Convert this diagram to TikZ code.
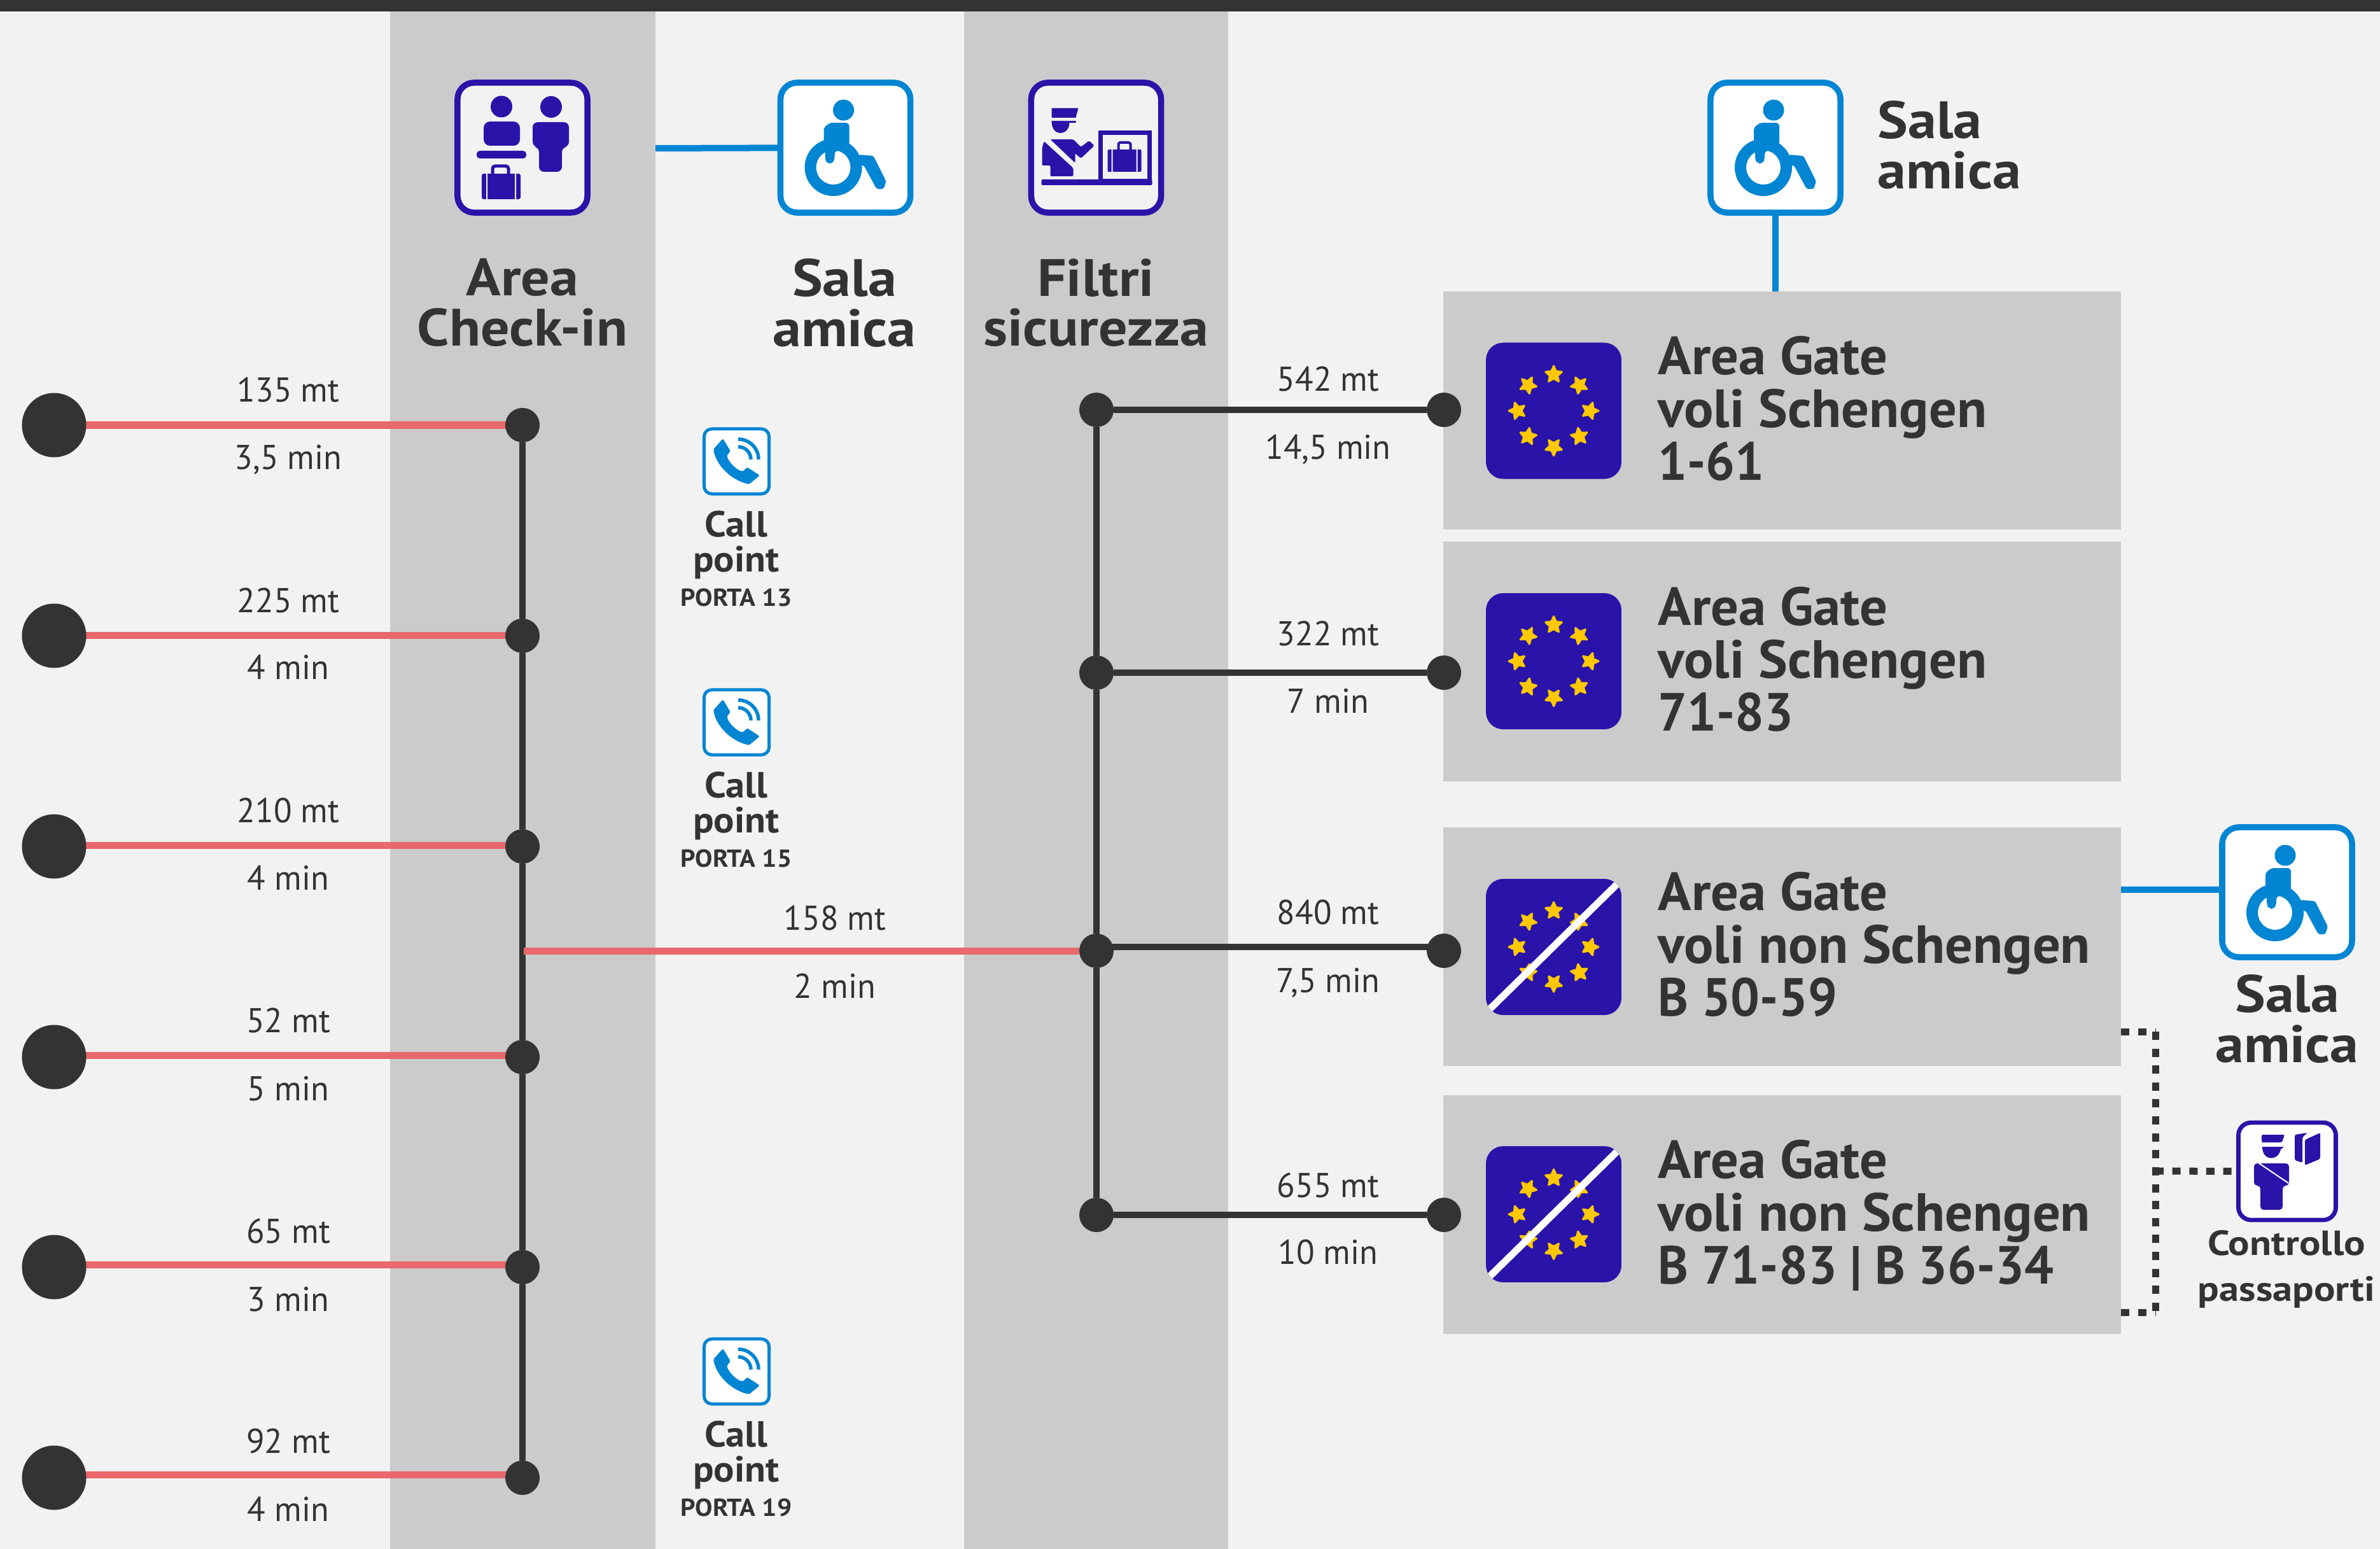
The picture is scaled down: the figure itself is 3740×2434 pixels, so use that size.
\documentclass[tikz,border=0pt]{standalone}
\usepackage{fontspec}
\setmainfont{PT Sans}
\newfontfamily\fDist[FakeStretch=0.97]{PT Sans}
\newfontfamily\fHead[FakeStretch=1.09]{PT Sans}
\newfontfamily\fGate[FakeStretch=1.025]{PT Sans}
\newfontfamily\fGateN[FakeStretch=0.96]{PT Sans}
\newfontfamily\fCall[FakeStretch=1.06]{PT Sans}
\newfontfamily\fPass[FakeStretch=1.14]{PT Sans}
\usetikzlibrary{shapes.geometric}
\definecolor{bgc}{HTML}{F2F2F2}
\definecolor{bandc}{HTML}{CBCBCB}
\definecolor{darkc}{HTML}{333333}
\definecolor{redc}{HTML}{E8686C}
\definecolor{salac}{HTML}{0285D2}
\definecolor{indc}{HTML}{2A13A8}
\definecolor{starc}{HTML}{FFC800}
\newcommand{\flagbase}[1]{%
  \begin{scope}
    \clip[rounded corners=.27cm] (-106.5,-107) rectangle (106.5,107);
    \fill[indc] (-106.5,-107) rectangle (106.5,107);
    \foreach \a in {0,45,...,315}
      \node[eustar,rotate={-\a-90}] at ({57*cos(\a)},{57*sin(\a)}) {};
    #1
  \end{scope}}
\tikzset{
  eustar/.style={star,star points=5,star point ratio=2.1,fill=starc,draw=starc,line width=.03cm,line join=round,minimum size=.27cm,inner sep=0pt},
  euflag/.pic={\flagbase{}},
  nonflag/.pic={\flagbase{\draw[white,line width=.11cm] (-105,102) -- (105,-104);}},
  wheelpic/.pic={
    \fill[salac] (103,48) circle[radius=.165cm];
    \fill[salac,rounded corners=.03cm] (127,118) -- (150,120) -- (170,160) -- (166,172) -- (155,172) -- (135,135) -- (120,135) -- cycle;
    \fill[salac,even odd rule] (87,138) circle[radius=.45cm] (87,138) circle[radius=.27cm];
    \fill[salac,rounded corners=.05cm] (72,108) -- (72,84) .. controls (72,74) and (80,68) .. (90,68) -- (112,68) -- (112,112) -- (89,112) -- (89,126) -- (85,132) -- (78,132) -- (74,126) -- (74,108) -- cycle;
  },
  checkinpic/.pic={
    \fill[indc] (73,42.5) circle[radius=.17cm] (151,43) circle[radius=.17cm];
    \fill[indc,rounded corners=.1cm] (45,104) -- (45,66) -- (102,66) -- (102,104) -- cycle;
    \fill[indc,rounded corners=.05cm] (34,112) rectangle (112,124);
    \fill[indc,rounded corners=.08cm] (122,106) -- (122,67) -- (179,67) -- (179,106) -- (168,106) -- (168,145) -- (132,145) -- (132,106) -- cycle;
    \fill[indc,rounded corners=.03cm] (42,148) rectangle (103,188);
    \fill[bgc] (49,148) rectangle (51,188) (94,148) rectangle (96,188);
    \draw[indc,line width=.05cm,rounded corners=.04cm] (59,148) -- (59,136) -- (84,136) -- (84,148);
  },
  filtripic/.pic={
    \fill[indc] (36,45) -- (78,45) -- (74,60) -- (36,60) -- cycle;
    \fill[indc] (36,65) -- (74,65) -- (74,68) -- (64,68) .. controls (64,88) and (36,92) .. (36,65) -- cycle;
    \fill[indc,rounded corners=.02cm] (24,97) -- (70,139) -- (70,152) -- (34,152) -- (34,135) -- (21,135) -- (21,108) -- cycle;
    \fill[indc,rounded corners=.02cm] (34,94) -- (70,94) -- (82,106) -- (95,96) -- (103,104) -- (82,124) -- (73,116) -- (73,131) -- cycle;
    \draw[indc,line width=.07cm] (113,84) rectangle (190,160);
    \fill[indc,rounded corners=.02cm] (20,157) rectangle (194,166);
    \fill[indc,rounded corners=.02cm] (124,110) rectangle (177,145);
    \fill[bgc] (130,110) rectangle (132,145) (169,110) rectangle (171,145);
    \draw[indc,line width=.04cm,rounded corners=.03cm] (141,110) -- (141,99) -- (160,99) -- (160,110);
  },
  passpic/.pic={
    \fill[indc,rounded corners=.02cm] (40,22) -- (76,22) -- (72,34) -- (40,34) -- cycle;
    \fill[indc] (41,41) -- (75,41) -- (70,45) .. controls (66,64) and (41,64) .. (41,41) -- cycle;
    \fill[indc,rounded corners=.05cm] (38,140) -- (38,102) -- (28,102) -- (28,67) -- (83,67) -- (83,102) -- (73,102) -- (73,140) -- cycle;
    \draw[white,line width=.02cm] (33,65) -- (82,98);
    \fill[indc,rounded corners=.02cm] (92,22) -- (112,19) -- (104,26) -- (104,66) -- (92,62) -- cycle;
    \fill[indc,rounded corners=.02cm] (108,30) -- (132,19) -- (132,60) -- (108,70) -- cycle;
  },
  phonepic/.pic={
    \fill[salac,rounded corners=.025cm] (32,17) -- (44,37) -- (38,44) .. controls (42,55) and (52,65) .. (63,69) -- (70,62) -- (90,75) -- (73,89) .. controls (45,82) and (22,60) .. (17,34) -- cycle;
    \draw[salac,line width=.055cm] (56,30) arc (90:0:.2cm);
    \draw[salac,line width=.055cm] (56,18) arc (90:0:.32cm);
  },
  bigbox/.style={draw=#1,fill=white,line width=.095cm,minimum width=2.04cm,minimum height=2.04cm,rounded corners=.26cm,inner sep=0pt,outer sep=0pt},
  phonebox/.style={draw=salac,fill=white,line width=.05cm,minimum width=1.02cm,minimum height=1.02cm,rounded corners=.12cm,inner sep=0pt,outer sep=0pt},
  passbox/.style={draw=indc,fill=white,line width=.068cm,minimum width=1.53cm,minimum height=1.53cm,rounded corners=.2cm,inner sep=0pt,outer sep=0pt},
  gatebox/.style={fill=bandc,minimum width=10.65cm,inner sep=0pt,outer sep=0pt},
  bigdot/.style={circle,fill=darkc,minimum size=1.01cm,inner sep=0pt,outer sep=0pt},
  smalldot/.style={circle,fill=darkc,minimum size=.54cm,inner sep=0pt,outer sep=0pt},
  redline/.style={draw=redc,line width=.11cm},
  darkline/.style={draw=darkc,line width=.10cm},
  blueline/.style={draw=salac,line width=.10cm},
  dotline/.style={draw=darkc,line width=.11cm,dash pattern=on .13cm off .136cm},
  tight/.style={execute at begin node={\lineskiplimit=-30pt\relax}},
  distlabel/.style={text=darkc,anchor=base,inner sep=0pt,font=\fontsize{15.4}{18}\selectfont\fDist},
  headlabel/.style={tight,text=darkc,align=center,inner sep=0pt,font=\fontsize{23.5}{22.4}\selectfont\fHead\bfseries},
  leftlabel/.style={headlabel,align=left,anchor=west},
  gatelabel/.style={tight,text=darkc,align=left,anchor=west,inner sep=0pt,font=\fontsize{24}{23.6}\selectfont\fGate\bfseries},
  calllabel/.style={tight,text=darkc,align=center,inner sep=0pt,font=\fontsize{16.2}{15.7}\selectfont\fCall\bfseries},
  portalabel/.style={text=darkc,anchor=base,inner sep=0pt,font=\fontsize{11}{13}\selectfont\fCall\bfseries},
  passlabel/.style={tight,text=darkc,align=center,inner sep=0pt,font=\fontsize{15.6}{20.4}\selectfont\fPass\bfseries},
}
\newcommand{\numline}[1]{{\fGateN\bfseries #1}}
\begin{document}
\begin{tikzpicture}[x=.01cm,y=-.01cm]
\fill[bgc] (0,0) rectangle (3740,2434);
\useasboundingbox (0,0) rectangle (3740,2434);
\fill[darkc] (0,0) rectangle (3740,18);
\fill[bandc] (613,18) rectangle (1030,2434);
\fill[bandc] (1515,18) rectangle (1930,2434);

% gate areas
\node[gatebox,minimum height=3.74cm] (G1) at (2800.5,645) {};
\node[gatebox,minimum height=3.77cm] (G2) at (2800.5,1039.5) {};
\node[gatebox,minimum height=3.75cm] (G3) at (2800.5,1487.5) {};
\node[gatebox,minimum height=3.75cm] (G4) at (2800.5,1908.5) {};

% icon boxes
\node[bigbox=indc,fill=bgc] (CI) at (821,232) {};
\node[bigbox=salac] (S1) at (1328.5,232) {};
\node[bigbox=indc,fill=bgc] (FS) at (1722.5,232) {};
\node[bigbox=salac] (S2) at (2790,232) {};
\node[bigbox=salac] (S3) at (3594,1402) {};
\node[passbox] (PC) at (3594,1840.5) {};
\node[phonebox] (T1) at (1157.5,725) {};
\node[phonebox] (T2) at (1157.5,1135) {};
\node[phonebox] (T3) at (1157.5,2155) {};
\pic at (715,125) {checkinpic};
\pic at (1222.5,125) {wheelpic};
\pic at (1616.5,125) {filtripic};
\pic at (2684,125) {wheelpic};
\pic at (3488,1296) {wheelpic};
\pic at (3514,1761) {passpic};
\pic at (1104,672) {phonepic};
\pic at (1104,1082) {phonepic};
\pic at (1104,2102) {phonepic};

% flags
\pic at (2441.5,645.5) {euflag};
\pic at (2441.5,1039) {euflag};
\pic at (2441.5,1488) {nonflag};
\pic at (2441.5,1908) {nonflag};

% left rows: red line first, dots over it
\foreach \n/\y/\ly in {1/668/668,2/999/998,3/1330/1328,4/1661/1658,5/1991/1987,6/2322/2317}{
  \coordinate (La\n) at (85,\ly);
  \coordinate (Da\n) at (821,\ly);
  \draw[redline] (La\n) -- (Da\n);
  \node[bigdot] (L\n) at (85,\y) {};
  \node[smalldot] (D\n) at (821,\y) {};
}
\foreach \n/\y in {1/644,2/1057,3/1494,4/1909}{
  \node[smalldot] (F\n) at (1723,\y) {};
  \node[smalldot] (R\n) at (2269,\y) {};
}

% connectors
\foreach \a/\b in {1/2,2/3,3/4,4/5,5/6} \draw[darkline] (D\a) -- (D\b);
\foreach \a/\b in {1/2,2/3,3/4} \draw[darkline] (F\a) -- (F\b);
\coordinate (Cross) at (823,1494);
\draw[redline] (Cross) -- (F3);
\draw[darkline] (F1) -- (R1);
\draw[darkline] (F2) -- (R2);
\coordinate (F3a) at (1723,1488);
\coordinate (R3a) at (2269,1488);
\draw[darkline] (F3a) -- (R3a);
\draw[darkline] (F4) -- (R4);
\coordinate (Band1E) at (1030,233);
\draw[blueline] (Band1E) -- (S1);
\draw[blueline] (S2) -- (S2 |- G1.north);
\coordinate (G3E) at (3333,1398);
\coordinate (S3W) at (3488,1398);
\draw[blueline] (G3E) -- (S3W);
\coordinate (DotT) at (3387,1621);
\coordinate (DotM) at (3387,1840);
\coordinate (DotB) at (3387,2062);
\draw[dotline] (G3.east |- DotT) -- (DotT);
\draw[dotline] (DotT) -- (DotB);
\draw[dotline] (G4.east |- DotB) -- (DotB);
\draw[dotline] (DotM) -- (PC.west);

% distance labels
\foreach \n/\u/\a/\d/\b in {1/631/135 mt/737/{3,5 min},2/962/225 mt/1067/4 min,3/1292/210 mt/1398/4 min,4/1622/52 mt/1729/5 min,5/1953/65 mt/2060/3 min,6/2283/92 mt/2390/4 min}{
  \node[distlabel] (Lu\n) at (453,\u) {\a};
  \node[distlabel] (Ld\n) at (453,\d) {\b};
}
\node[distlabel] (Mu) at (1312,1461) {158 mt};
\node[distlabel] (Md) at (1312,1568) {2 min};
\foreach \n/\u/\a/\d/\b in {1/614/542 mt/721/{14,5 min},2/1014/322 mt/1120/7 min,3/1452/840 mt/1559/{7,5 min},4/1881/655 mt/1986/10 min}{
  \node[distlabel] (Ru\n) at (2087,\u) {\a};
  \node[distlabel] (Rd\n) at (2087,\d) {\b};
}

% titles
\node[headlabel] (tCI) at (821,487) {\strut Area\\\strut Check-in};
\node[headlabel] (tS1) at (1327,487) {\strut Sala\\\strut amica};
\node[headlabel] (tFS) at (1722,487) {\strut Filtri\\\strut sicurezza};
\node[leftlabel] (tS2) at (2950,239) {\strut Sala\\\strut amica};
\node[headlabel] (tS3) at (3594,1612) {\strut Sala\\\strut amica};
\node[passlabel] (tPC) at (3593,1994) {\strut Controllo\\\strut passaporti};

\node[gatelabel] (g1) at (2605,654) {\strut Area Gate\\\strut voli Schengen\\\strut \numline{1-61}};
\node[gatelabel] (g2) at (2605,1048) {\strut Area Gate\\\strut voli Schengen\\\strut \numline{71-83}};
\node[gatelabel] (g3) at (2605,1496) {\strut Area Gate\\\strut voli non Schengen\\\strut \numline{B 50-59}};
\node[gatelabel] (g4) at (2605,1917) {\strut Area Gate\\\strut voli non Schengen\\\strut \numline{B 71-83 | B 36-34}};

\foreach \n/\y/\p in {1/671/13,2/1081/15,3/2101/19}{
  \node[calllabel] (c\n) at (1157,\y+188) {\strut Call\\\strut point};
  \node[portalabel] (p\n) at (1157,\y+281) {PORTA \p};
}
\end{tikzpicture}
\end{document}
